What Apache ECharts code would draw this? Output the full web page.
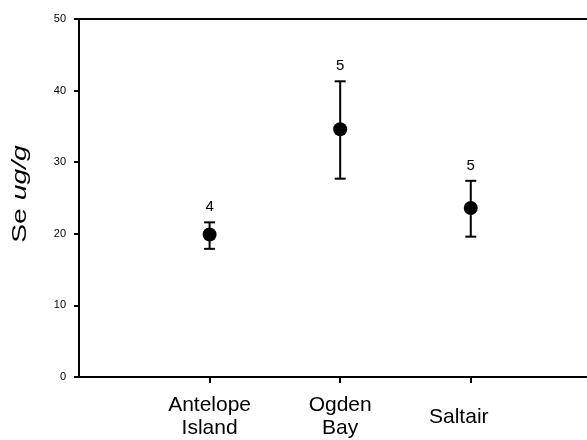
<!DOCTYPE html>
<html>
<head>
<meta charset="utf-8">
<script src="https://cdn.jsdelivr.net/npm/echarts@6/dist/echarts.min.js"></script>
<style>html,body{margin:0;padding:0;background:#fff;}#c{width:587px;height:440px;}</style>
</head>
<body>
<div id="c"></div>
<script>
var categories = ['Antelope\nIsland', 'Ogden\nBay', 'Saltair'];
var positions = [1, 2, 3];
var means = [19.9, 34.6, 23.6];
var lowers = [17.9, 27.7, 19.6];
var uppers = [21.6, 41.3, 27.4];
var counts = [4, 5, 5];
var yTicks = [0, 10, 20, 30, 40, 50];

var FONT = 'Liberation Sans, Arial, Helvetica, sans-serif';
var chart = echarts.init(document.getElementById('c'), null, {renderer: 'canvas'});

var scatterData = positions.map(function (x, i) { return [x, means[i]]; });
var errData = positions.map(function (x, i) { return [x, means[i], lowers[i], uppers[i], counts[i]]; });

function renderErr(params, api) {
  var x = api.value(0);
  var lo = api.coord([x, api.value(2)]);
  var hi = api.coord([x, api.value(3)]);
  var hw = 5.5;
  var st = {stroke: '#000', lineWidth: 2};
  return {
    type: 'group',
    children: [
      {type: 'line', shape: {x1: lo[0], y1: lo[1], x2: hi[0], y2: hi[1]}, style: st},
      {type: 'line', shape: {x1: lo[0] - hw, y1: lo[1], x2: lo[0] + hw, y2: lo[1]}, style: st},
      {type: 'line', shape: {x1: hi[0] - hw, y1: hi[1], x2: hi[0] + hw, y2: hi[1]}, style: st},
      {type: 'text', style: {text: String(api.value(4)), x: hi[0], y: hi[1] - 15,
        textAlign: 'center', textVerticalAlign: 'middle', fill: '#000',
        font: '15px ' + FONT}}
    ]
  };
}

var option = {
  backgroundColor: '#fff',
  animation: false,
  grid: {left: 79, right: 0, top: 19, bottom: 63, containLabel: false},
  xAxis: [{
    type: 'value', min: 0, max: 3.89, position: 'bottom',
    splitLine: {show: false},
    axisLine: {show: true, onZero: false, lineStyle: {color: '#000', width: 2}},
    axisTick: {show: true, customValues: positions, length: 6, lineStyle: {color: '#000', width: 2}},
    axisLabel: {show: true, customValues: positions, margin: 40, verticalAlign: 'middle',
      fontSize: 21, lineHeight: 23, color: '#000', fontFamily: FONT,
      rich: {
        s: {fontSize: 21, lineHeight: 23, color: '#000', fontFamily: FONT, padding: [0, 24, 0, 0]},
        a: {fontSize: 21, lineHeight: 23, color: '#000', fontFamily: FONT, padding: [0, 8, 0, 0]}
      },
      formatter: function (v) {
        var i = positions.indexOf(Math.round(v));
        if (i < 0) return '';
        if (i === 2) return '{s|' + categories[i] + '}';
        return categories[i];
      }}
  }, {
    type: 'value', min: 0, max: 3.89, position: 'top',
    splitLine: {show: false},
    axisLine: {show: true, onZero: false, lineStyle: {color: '#000', width: 2}},
    axisTick: {show: false}, axisLabel: {show: false}
  }],
  yAxis: {
    type: 'value', min: yTicks[0], max: yTicks[yTicks.length - 1], interval: 10,
    splitLine: {show: false},
    axisLine: {show: true, onZero: false, lineStyle: {color: '#000', width: 2}},
    axisTick: {show: true, length: 5, lineStyle: {color: '#000', width: 2}},
    axisLabel: {margin: 13, fontSize: 11, color: '#000', fontFamily: FONT}
  },
  graphic: [{
    type: 'text', x: 20, y: 194, rotation: Math.PI / 2, scaleX: 1.35, scaleY: 1,
    style: {
      text: '{n|Se }{i|ug/g}',
      textAlign: 'center', textVerticalAlign: 'middle', fill: '#000',
      rich: {
        n: {fontSize: 21, fontFamily: FONT, fill: '#000', color: '#000'},
        i: {fontSize: 21, fontFamily: FONT, fontStyle: 'italic', fill: '#000', color: '#000'}
      }
    }
  }],
  series: [{
    type: 'custom', renderItem: renderErr, data: errData, z: 2,
    encode: {x: 0, y: [1, 2, 3]}
  }, {
    type: 'scatter', data: scatterData, symbol: 'circle', symbolSize: 14,
    itemStyle: {color: '#000', opacity: 1}, z: 3
  }]
};
chart.setOption(option);
</script>
</body>
</html>
